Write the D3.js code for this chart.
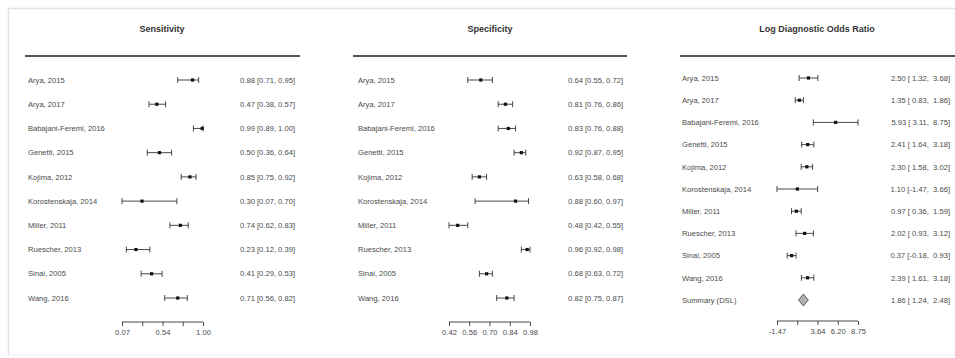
<!DOCTYPE html>
<html>
<head>
<meta charset="utf-8">
<script src="https://cdn.jsdelivr.net/npm/d3@7"></script>
<style>
  html, body { margin: 0; padding: 0; background: #fff; }
  svg { display: block; font-family: "Liberation Sans", Arial, sans-serif; }
  .lbl { font-size: 7.6px; fill: #4a4a4a; }
  .val { font-size: 7.6px; fill: #4a4a4a; white-space: pre; }
  .ttl { font-size: 9px; font-weight: bold; fill: #333; }
  .axis text { font-size: 7.6px; fill: #4a4a4a; font-family: "Liberation Sans", Arial, sans-serif; }
  .axis path, .axis line { stroke: #333; stroke-width: 0.9; }
</style>
</head>
<body>
<svg id="chart" width="955" height="358"></svg>
<script>
// Studies included in the meta-analysis
const studies = ["Arya, 2015", "Arya, 2017", "Babajani-Feremi, 2016", "Genetti, 2015",
  "Kojima, 2012", "Korostenskaja, 2014", "Miller, 2011", "Ruescher, 2013", "Sinai, 2005", "Wang, 2016"];

// Sensitivity with 95% CI
const sens   = [0.88, 0.47, 0.99, 0.50, 0.85, 0.30, 0.74, 0.23, 0.41, 0.71];
const sensLo = [0.71, 0.38, 0.89, 0.36, 0.75, 0.07, 0.62, 0.12, 0.29, 0.56];
const sensHi = [0.95, 0.57, 1.00, 0.64, 0.92, 0.70, 0.83, 0.39, 0.53, 0.82];

// Specificity with 95% CI
const spec   = [0.64, 0.81, 0.83, 0.92, 0.63, 0.88, 0.48, 0.96, 0.68, 0.82];
const specLo = [0.55, 0.76, 0.76, 0.87, 0.58, 0.60, 0.42, 0.92, 0.63, 0.75];
const specHi = [0.72, 0.86, 0.88, 0.95, 0.68, 0.97, 0.55, 0.98, 0.72, 0.87];

// Log diagnostic odds ratio with 95% CI
const ldor   = [2.50, 1.35, 5.93, 2.41, 2.30, 1.10, 0.97, 2.02, 0.37, 2.39];
const ldorLo = [1.32, 0.83, 3.11, 1.64, 1.58, -1.47, 0.36, 0.93, -0.18, 1.61];
const ldorHi = [3.68, 1.86, 8.75, 3.18, 3.02, 3.66, 1.59, 3.12, 0.93, 3.18];

// Pooled estimate (DSL random effects)
const summaryLabel = "Summary (DSL)";
const summaryEst = 1.86, summaryLo = 1.24, summaryHi = 2.48;

// Axis ticks
const sensTicks = [0.07, 0.3025, 0.535, 0.7675, 1.00];
const sensTickLabels = ["0.07", "", "0.54", "", "1.00"];
const specTicks = [0.42, 0.56, 0.70, 0.84, 0.98];
const specTickLabels = ["0.42", "0.56", "0.70", "0.84", "0.98"];
const ldorTicks = [-1.47, 1.085, 3.64, 6.195, 8.75];
const ldorTickLabels = ["-1.47", "", "3.64", "6.20", "8.75"];

const svg = d3.select("#chart");

// light outer frame
svg.append("line").attr("x1", 8).attr("x2", 955).attr("y1", 8.5).attr("y2", 8.5)
  .attr("stroke", "#e2e2e2").attr("stroke-width", 1.5);
svg.append("line").attr("x1", 8.5).attr("x2", 8.5).attr("y1", 8).attr("y2", 355)
  .attr("stroke", "#e2e2e2").attr("stroke-width", 1.5);
svg.append("line").attr("x1", 8).attr("x2", 955).attr("y1", 355).attr("y2", 355)
  .attr("stroke", "#ececec").attr("stroke-width", 1.2);

// plain hyphen-minus, two decimals
const fmt2 = v => v.toFixed(2);
function padNum(v, w) { const s = fmt2(v); return " ".repeat(Math.max(0, w - s.length)) + s; }

function panel(cfg) {
  const g = svg.append("g");
  const x = d3.scaleLinear().domain(cfg.domain).range(cfg.xRange);
  const n = cfg.labels.length;
  const y = d3.scaleLinear().domain([0, n - 1]).range(cfg.yRange);

  g.append("text").attr("class", "ttl").attr("x", cfg.titleX).attr("y", 32)
    .attr("text-anchor", "middle").text(cfg.title);
  g.append("line").attr("x1", cfg.lineX[0]).attr("x2", cfg.lineX[1])
    .attr("y1", 56).attr("y2", 56).attr("stroke", "#555").attr("stroke-width", 2);

  const rows = cfg.est.map((d, i) => ({ name: cfg.labels[i], est: d, lo: cfg.lo[i], hi: cfg.hi[i], i }));

  g.selectAll(".lbl").data(cfg.labels).join("text").attr("class", "lbl")
    .attr("x", cfg.labelX).attr("y", (d, i) => y(i) + 2.7).text(d => d);

  g.selectAll(".val").data(rows.concat(cfg.summary ? [cfg.summary] : [])).join("text")
    .attr("class", "val").attr("x", cfg.valX).attr("text-anchor", "end")
    .attr("y", d => y(d.i) + 2.7)
    .text(d => cfg.pad
      ? `${fmt2(d.est)} [${padNum(d.lo, 5)}, ${padNum(d.hi, 5)}]`
      : `${fmt2(d.est)} [${fmt2(d.lo)}, ${fmt2(d.hi)}]`);

  const ci = g.selectAll(".ci").data(rows).join("g").attr("class", "ci");
  ci.append("line").attr("x1", d => x(d.lo)).attr("x2", d => x(d.hi))
    .attr("y1", d => y(d.i)).attr("y2", d => y(d.i)).attr("stroke", "#333").attr("stroke-width", 0.9);
  ci.append("line").attr("x1", d => x(d.lo)).attr("x2", d => x(d.lo))
    .attr("y1", d => y(d.i) - 3).attr("y2", d => y(d.i) + 3).attr("stroke", "#333").attr("stroke-width", 0.9);
  ci.append("line").attr("x1", d => x(d.hi)).attr("x2", d => x(d.hi))
    .attr("y1", d => y(d.i) - 3).attr("y2", d => y(d.i) + 3).attr("stroke", "#333").attr("stroke-width", 0.9);
  ci.append("rect").attr("x", d => x(d.est) - 1.6).attr("y", d => y(d.i) - 1.6)
    .attr("width", 3.2).attr("height", 3.2).attr("fill", "#111");

  if (cfg.summary) {
    const s = cfg.summary, yc = y(s.i);
    g.append("path")
      .attr("d", `M${x(s.lo)},${yc} L${x(s.est)},${yc - 6} L${x(s.hi)},${yc} L${x(s.est)},${yc + 6} Z`)
      .attr("fill", "#b0b0b0").attr("stroke", "#444").attr("stroke-width", 0.8);
  }

  const ax = g.append("g").attr("class", "axis").attr("transform", `translate(0,${cfg.axisY})`)
    .call(d3.axisBottom(x).tickValues(cfg.ticks).tickSize(4).tickPadding(4)
      .tickFormat((d, i) => cfg.tickLabels[i]));
  ax.select(".domain").attr("d", `M${x(cfg.domain[0])},0H${x(cfg.domain[1])}`);
}

panel({
  title: "Sensitivity", titleX: 162, lineX: [25, 300],
  labels: studies, est: sens, lo: sensLo, hi: sensHi,
  domain: [0.07, 1.00], xRange: [122, 203], yRange: [80, 298],
  labelX: 28, valX: 295, axisY: 322, ticks: sensTicks, tickLabels: sensTickLabels
});

panel({
  title: "Specificity", titleX: 490, lineX: [353, 627],
  labels: studies, est: spec, lo: specLo, hi: specHi,
  domain: [0.42, 0.98], xRange: [449, 530], yRange: [80, 298],
  labelX: 358, valX: 623, axisY: 322, ticks: specTicks, tickLabels: specTickLabels
});

panel({
  title: "Log Diagnostic Odds Ratio", titleX: 817, lineX: [680, 955],
  labels: studies.concat([summaryLabel]), est: ldor, lo: ldorLo, hi: ldorHi,
  summary: { est: summaryEst, lo: summaryLo, hi: summaryHi, i: 10 },
  domain: [-1.47, 8.75], xRange: [777, 858], yRange: [78, 300],
  labelX: 682, valX: 950, axisY: 321, ticks: ldorTicks, tickLabels: ldorTickLabels, pad: true
});
</script>
</body>
</html>
